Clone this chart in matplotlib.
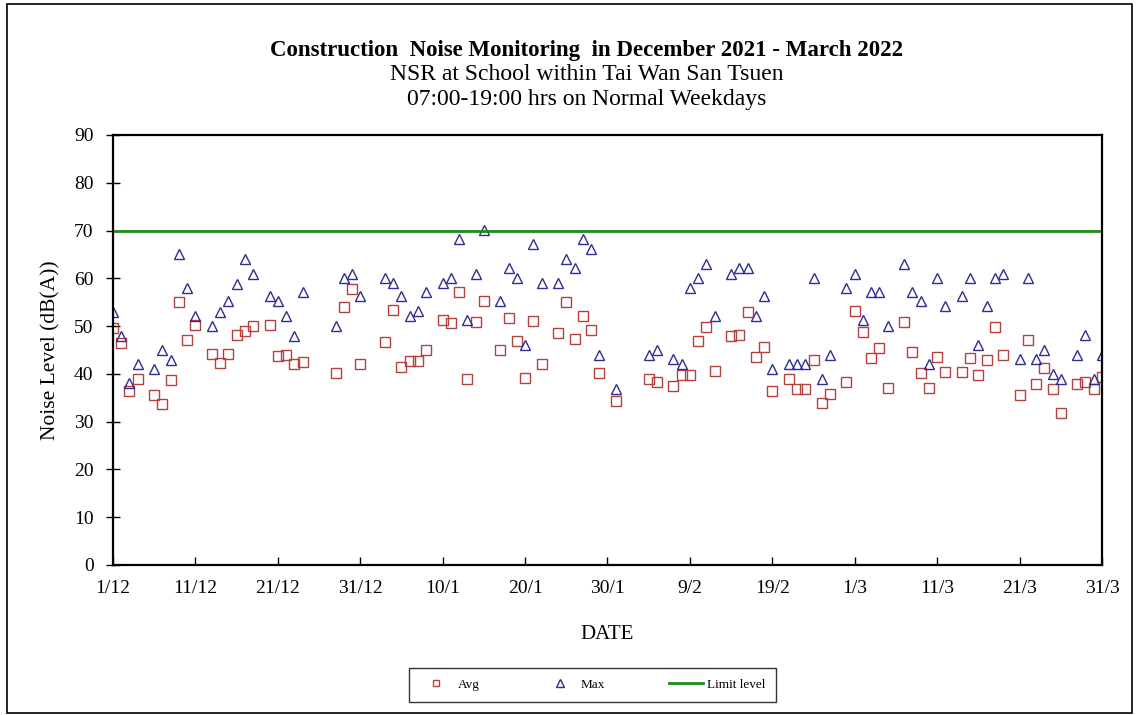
import datetime as dt
import matplotlib.pyplot as plt
from matplotlib.patches import Rectangle

plt.rcParams['font.family'] = ['Liberation Serif', 'DejaVu Serif']

# monitoring days (normal weekdays, Mon-Sat excluding holidays)
dec_days = [1, 2, 3, 4, 6, 7, 8, 9, 10, 11, 13, 14, 15, 16, 17, 18,
            20, 21, 22, 23, 24, 28, 29, 30, 31]
jan_days = [3, 4, 5, 6, 7, 8, 10, 11, 12, 13, 14, 15, 17, 18, 19, 20, 21, 22,
            24, 25, 26, 27, 28, 29, 31]
feb_days = [4, 5, 7, 8, 9, 10, 11, 12, 14, 15, 16, 17, 18, 19,
            21, 22, 23, 24, 25, 26, 28]
mar_days = [1, 2, 3, 4, 5, 7, 8, 9, 10, 11, 12, 14, 15, 16, 17, 18, 19,
            21, 22, 23, 24, 25, 26, 28, 29, 30, 31]

# Avg noise level dB(A)
avg_dec = [49.5, 46.5, 36.5, 39, 35.5, 33.7, 38.7, 55, 47, 50.3, 44.2, 42.3, 44.2,
           48.1, 48.9, 50.1, 50.3, 43.8, 44, 42, 42.5, 40.1, 54, 57.7, 42]
avg_jan = [46.6, 53.4, 41.5, 42.8, 42.8, 45, 51.3, 50.6, 57.2, 39, 50.8, 55.2,
           45, 51.6, 46.8, 39.2, 51.1, 42, 48.6, 55, 47.3, 52.2, 49.1, 40.1, 34.3]
avg_feb = [39, 38.3, 37.4, 39.8, 39.8, 46.8, 49.9, 40.7, 47.9, 48.1, 52.9, 43.5,
           45.7, 36.5, 38.9, 36.8, 36.8, 43, 34, 35.8, 38.4]
avg_mar = [53.1, 48.7, 43.3, 45.5, 37.1, 50.8, 44.5, 40.2, 37.1, 43.5, 40.4,
           40.4, 43.3, 39.7, 43, 49.9, 44, 35.6, 47, 37.9, 41.2, 36.8, 31.9,
           37.9, 38.4, 36.8, 39.3]

# Max noise level dB(A)
max_dec = [53, 48, 38, 42, 41, 45, 43, 65, 58, 52.2, 50, 53, 55.2, 58.9, 64.1, 61,
           56.3, 55.2, 52.2, 48, 57.2, 50, 60, 61, 56.3]
max_jan = [60.1, 59, 56.3, 52.2, 53.1, 57.2, 59, 60.1, 68.2, 51.2, 61, 70.1,
           55.2, 62.1, 60, 46, 67.2, 59, 59, 64.1, 62.1, 68.2, 66.1, 44, 36.8]
max_feb = [44, 45.1, 43.1, 42, 58, 60.1, 63.1, 52.2, 61, 62.1, 62.1, 52.2, 56.3,
           41, 42, 42, 42, 60.1, 38.9, 44, 58]
max_mar = [61, 51.2, 57.1, 57.1, 50.1, 63.1, 57.1, 55.2, 42, 60.1, 54.2, 56.3,
           60.1, 46, 54.2, 60.1, 61, 43.1, 60.1, 43.1, 45.1, 40, 38.9, 44, 48.1,
           38.9, 44]

limit_level = 70

dates = ([dt.date(2021, 12, d) for d in dec_days] +
         [dt.date(2022, 1, d) for d in jan_days] +
         [dt.date(2022, 2, d) for d in feb_days] +
         [dt.date(2022, 3, d) for d in mar_days])
avg_vals = avg_dec + avg_jan + avg_feb + avg_mar
max_vals = max_dec + max_jan + max_feb + max_mar

start = dt.date(2021, 12, 1)
end = dt.date(2022, 3, 31)
tick_dates = [start + dt.timedelta(days=10 * i) for i in range(13)]

fig = plt.figure(figsize=(11.39, 7.15), dpi=100)
ax = fig.add_axes([0.0992, 0.2098, 0.8683, 0.6014])

ax.plot(dates, avg_vals, linestyle='none', marker='s', markersize=6.5,
        markerfacecolor='none', markeredgecolor='#B5403D', markeredgewidth=1.0,
        label='Avg')
ax.plot(dates, max_vals, linestyle='none', marker='^', markersize=7.5,
        markerfacecolor='none', markeredgecolor='#2E2E96', markeredgewidth=1.0,
        label='Max')
ax.plot([start, end], [limit_level, limit_level], color='#1E8A1E', lw=2,
        label='Limit level')

ax.set_xlim(start, end)
ax.set_ylim(0, 90)
ax.set_yticks(range(0, 91, 10))
ax.set_xticks(tick_dates)
ax.set_xticklabels([f"{d.day}/{d.month}" for d in tick_dates])
ax.tick_params(axis='x', direction='in', length=6, width=1, labelsize=14, pad=11)
ax.tick_params(axis='y', direction='inout', length=10, width=1, labelsize=14, pad=9)
for s in ax.spines.values():
    s.set_linewidth(1.6)

ax.set_xlabel('DATE', fontsize=15, labelpad=20)
ax.set_ylabel('Noise Level (dB(A))', fontsize=15.5, labelpad=10)

fig.text(0.515, 0.930, 'Construction  Noise Monitoring  in December 2021 - March 2022',
         ha='center', va='center', fontsize=16.5, fontweight='bold')
fig.text(0.515, 0.896, 'NSR at School within Tai Wan San Tsuen',
         ha='center', va='center', fontsize=17)
fig.text(0.515, 0.861, '07:00-19:00 hrs on Normal Weekdays',
         ha='center', va='center', fontsize=17)

leg = ax.legend(loc='center', bbox_to_anchor=(0.520, 0.042),
                bbox_transform=fig.transFigure, ncol=3,
                fontsize=9.5, markerscale=0.75, frameon=True, fancybox=False,
                edgecolor='black', handlelength=2.6, handletextpad=0.3,
                columnspacing=4.8, borderpad=0.8)
leg.get_frame().set_linewidth(1.0)

fig.patches.append(Rectangle((0.006, 0.003), 0.988, 0.992, transform=fig.transFigure,
                             fill=False, edgecolor='black', lw=1.2))

fig.savefig('out.png', dpi=100)
